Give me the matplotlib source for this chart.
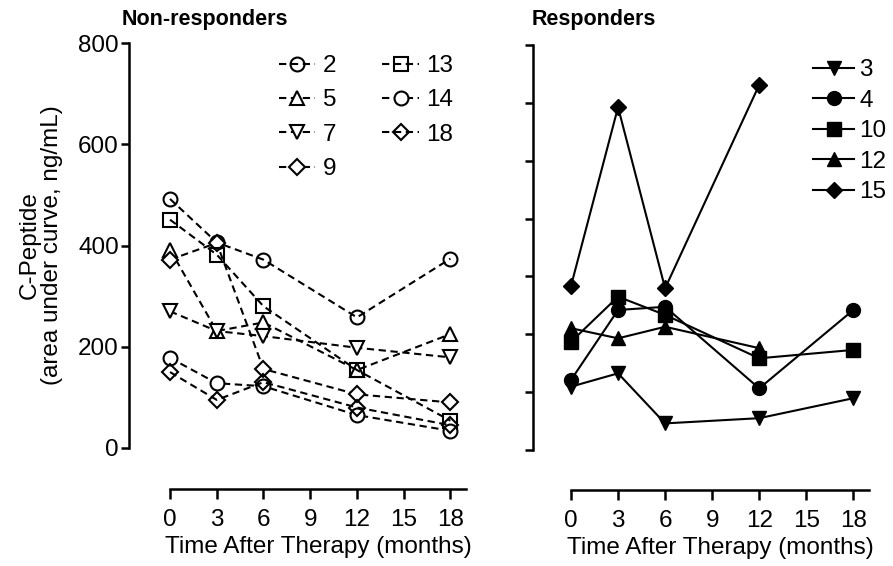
import matplotlib
matplotlib.use('Agg')
import matplotlib.pyplot as plt

plt.rcParams['font.family'] = ['Liberation Sans', 'DejaVu Sans']

# ---------------- data ----------------
months = [0, 3, 6, 12, 18]
months_short = [0, 3, 6, 12]

# Non-responders (C-peptide AUC, ng/mL)
nr_2 = [492, 406, 372, 258, 374]
nr_5 = [392, 231, 248, 154, 225]
nr_7 = [270, 231, 221, 198, 179]
nr_9 = [372, 405, 156, 106, 90]
nr_13 = [451, 382, 280, 154, 54]
nr_14 = [178, 128, 122, 65, 34]
nr_18 = [150, 95, 130, 80, 45]

# Responders
r_3 = [219, 265, 92, 110, 179]
r_4 = [242, 484, 495, 213, 484]
r_10 = [374, 530, 467, 317, 346]
r_12 = [421, 386, 426, 352]
r_15 = [567, 1185, 559, 1262]

x_ticks = [0, 3, 6, 9, 12, 15, 18]
yL_ticks = [0, 200, 400, 600, 800]
yR_ticks = [0, 200, 400, 600, 800, 1000, 1200, 1400]

FS = 17.5

fig = plt.figure(figsize=(8.93, 5.66), dpi=100)
axL = fig.add_axes([170/893, (566-448)/566, 296/893, 405/566])
axR = fig.add_axes([571/893, (566-450)/566, 298/893, 405/566])

# ---------------- left panel ----------------
left_series = [
    ('2', nr_2, 'o', 'none'),
    ('5', nr_5, '^', 'white'),
    ('7', nr_7, 'v', 'white'),
    ('9', nr_9, 'D', 'white'),
    ('13', nr_13, 's', 'none'),
    ('14', nr_14, 'o', 'white'),
    ('18', nr_18, 'D', 'none'),
]
for lab, vals, mk, fc in left_series:
    ms = 8 if mk == 'D' else 10
    axL.plot(months, vals, color='black', lw=1.5, dashes=(3.5, 2.2),
             marker=mk, ms=ms, mfc=fc, mec='black', mew=1.5,
             clip_on=False, label=lab)

axL.set_xlim(0, 19)
axL.set_ylim(0, 800)
axL.set_xticks(x_ticks)
axL.set_yticks(yL_ticks)
axL.spines['top'].set_visible(False)
axL.spines['right'].set_visible(False)
axL.spines['left'].set_position(('outward', 29.5))
axL.spines['bottom'].set_position(('outward', 29.5))
for sp in ('left', 'bottom'):
    axL.spines[sp].set_linewidth(1.8)
axL.tick_params(axis='y', direction='out', length=5.8, width=1.8,
                labelsize=FS, pad=1.5)
axL.tick_params(axis='x', direction='out', length=7.2, width=1.8,
                labelsize=FS, pad=7)
axL.set_xlabel('Time After Therapy (months)', fontsize=FS, labelpad=4)
fig.text(41/893, 1 - 245/566, 'C-Peptide\n(area under curve, ng/mL)',
         fontsize=FS, rotation=90, ha='center', va='center',
         multialignment='center', linespacing=1.05)
fig.text(122/893, 1 - 19/566, 'Non-responders', fontsize=15.5,
         fontweight='bold', ha='left', va='center')

legL = axL.legend(ncol=2, frameon=False, fontsize=FS, loc='upper left',
                  bbox_to_anchor=(279/893, 1 - 55/566),
                  bbox_transform=fig.transFigure,
                  handlelength=1.5, handletextpad=0.3, columnspacing=1.9,
                  labelspacing=0.51, borderpad=0, borderaxespad=0)

# ---------------- right panel ----------------
right_series = [
    ('3', months, r_3, 'v'),
    ('4', months, r_4, 'o'),
    ('10', months, r_10, 's'),
    ('12', months_short, r_12, '^'),
    ('15', months_short, r_15, 'D'),
]
for lab, xs, vals, mk in right_series:
    ms = 8 if mk == 'D' else 10
    axR.plot(xs, vals, color='black', lw=1.5, marker=mk, ms=ms,
             mfc='black', mec='black', clip_on=False, label=lab)

axR.set_xlim(0, 19)
axR.set_ylim(0, 1400)
axR.set_xticks(x_ticks)
axR.set_yticks(yR_ticks)
axR.set_yticklabels([])
axR.spines['top'].set_visible(False)
axR.spines['right'].set_visible(False)
axR.spines['left'].set_position(('outward', 27.4))
axR.spines['bottom'].set_position(('outward', 28.8))
for sp in ('left', 'bottom'):
    axR.spines[sp].set_linewidth(1.8)
axR.tick_params(axis='y', direction='out', length=5.8, width=1.8,
                labelsize=FS, pad=1.5)
axR.tick_params(axis='x', direction='out', length=7.2, width=1.8,
                labelsize=FS, pad=7)
axR.set_xlabel('Time After Therapy (months)', fontsize=FS, labelpad=4)
fig.text(532/893, 1 - 19/566, 'Responders', fontsize=15.5,
         fontweight='bold', ha='left', va='center')

legR = axR.legend(frameon=False, fontsize=FS, loc='upper left',
                  bbox_to_anchor=(813/893, 1 - 59/566),
                  bbox_transform=fig.transFigure,
                  handlelength=1.7, handletextpad=0.2,
                  labelspacing=0.35, borderpad=0, borderaxespad=0)

fig.savefig('out.png', dpi=100)
